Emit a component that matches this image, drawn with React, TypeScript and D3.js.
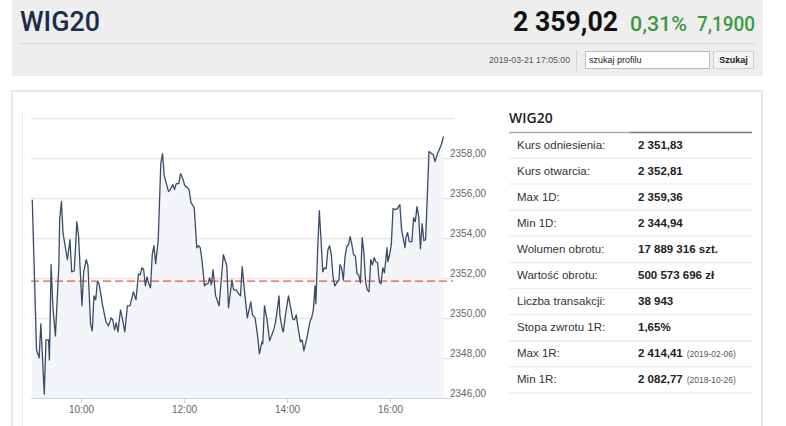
import * as d3 from 'd3';
import React from 'react';

// intraday quotes (time, index level)
const times = [
  '09:03', '09:08', '09:11', '09:13', '09:17', '09:19', '09:22', '09:23', '09:25', '09:27',
  '09:30', '09:34', '09:35', '09:37', '09:39', '09:44', '09:47', '09:49', '09:52', '09:55',
  '09:57', '10:01', '10:03', '10:06', '10:08', '10:11', '10:13', '10:15', '10:17', '10:19',
  '10:21', '10:25', '10:29', '10:32', '10:35', '10:37', '10:39', '10:41', '10:43', '10:46',
  '10:48', '10:51', '10:54', '10:57', '11:01', '11:04', '11:07', '11:09', '11:11', '11:13',
  '11:15', '11:17', '11:19', '11:21', '11:23', '11:25', '11:27', '11:30', '11:33', '11:35',
  '11:37', '11:42', '11:44', '11:47', '11:49', '11:51', '11:54', '11:56', '11:59', '12:01',
  '12:04', '12:06', '12:08', '12:09', '12:12', '12:15', '12:17', '12:19', '12:21', '12:24',
  '12:26', '12:28', '12:30', '12:32', '12:34', '12:37', '12:41', '12:46', '12:50', '12:52',
  '12:56', '12:58', '13:01', '13:04', '13:06', '13:08', '13:11', '13:14', '13:18', '13:20',
  '13:23', '13:26', '13:28', '13:31', '13:32', '13:34', '13:37', '13:40', '13:43', '13:45',
  '13:47', '13:51', '13:52', '13:55', '13:56', '13:59', '14:02', '14:05', '14:07', '14:09',
  '14:11', '14:14', '14:16', '14:18', '14:20', '14:24', '14:27', '14:29', '14:31', '14:33',
  '14:34', '14:36', '14:38', '14:40', '14:42', '14:44', '14:46', '14:48', '14:50', '14:52',
  '14:54', '14:56', '14:59', '15:01', '15:02', '15:04', '15:06', '15:08', '15:10', '15:12',
  '15:14', '15:16', '15:18', '15:20', '15:22', '15:24', '15:26', '15:28', '15:30', '15:32',
  '15:34', '15:36', '15:38', '15:40', '15:42', '15:44', '15:46', '15:48', '15:50', '15:52',
  '15:54', '15:57', '15:58', '16:00', '16:02', '16:04', '16:07', '16:09', '16:12', '16:14',
  '16:18', '16:19', '16:21', '16:23', '16:26', '16:28', '16:30', '16:32', '16:34', '16:36',
  '16:38', '16:40', '16:42', '16:44', '16:46', '16:49', '16:51', '16:53', '16:56', '17:00',
  '17:03',
];
const prices = [
  2355.9, 2348.4, 2348.0, 2349.7, 2346.2, 2348.9, 2348.9, 2347.9, 2352.65, 2350.6,
  2349.1, 2352.6, 2354.9, 2355.8, 2354.2, 2352.9, 2353.9, 2352.3, 2352.35, 2354.8,
  2354.1, 2350.6, 2352.3, 2352.9, 2352.6, 2349.7, 2349.35, 2351.1, 2350.9, 2351.8,
  2351.7, 2350.65, 2349.8, 2349.6, 2350.0, 2349.9, 2349.4, 2349.75, 2349.3, 2350.4,
  2350.0, 2349.3, 2350.6, 2350.6, 2351.3, 2350.9, 2352.2, 2352.15, 2352.5, 2352.4,
  2351.6, 2352.05, 2351.7, 2351.5, 2353.15, 2353.6, 2352.7, 2353.9, 2357.7, 2358.2,
  2357.1, 2356.3, 2356.4, 2356.65, 2356.4, 2356.7, 2356.7, 2357.2, 2356.9, 2356.6,
  2356.5, 2356.4, 2355.8, 2355.7, 2355.5, 2353.5, 2353.6, 2353.5, 2352.9, 2351.6,
  2351.7, 2351.7, 2352.0, 2351.65, 2352.4, 2351.1, 2350.6, 2353.15, 2352.6, 2350.5,
  2351.9, 2351.4, 2351.4, 2351.2, 2351.1, 2352.55, 2351.2, 2350.0, 2350.8, 2350.15,
  2350.0, 2349.1, 2348.2, 2348.8, 2348.7, 2350.6, 2349.9, 2348.85, 2349.2, 2349.45,
  2349.8, 2351.1, 2350.1, 2349.4, 2349.3, 2350.3, 2351.1, 2350.4, 2349.95, 2349.9,
  2350.15, 2349.3, 2348.8, 2348.9, 2348.35, 2349.1, 2349.8, 2350.0, 2350.4, 2351.6,
  2350.7, 2353.4, 2355.35, 2353.9, 2352.3, 2352.5, 2352.45, 2353.4, 2353.6, 2353.15,
  2352.05, 2351.6, 2351.8, 2351.9, 2352.65, 2352.5, 2351.9, 2353.05, 2353.55, 2353.65,
  2354.05, 2353.65, 2353.15, 2353.1, 2352.2, 2352.15, 2351.75, 2354.0, 2353.25, 2351.8,
  2351.4, 2351.3, 2352.9, 2352.65, 2353.0, 2352.8, 2352.75, 2351.8, 2351.7, 2352.5,
  2352.25, 2353.5, 2352.8, 2353.15, 2353.65, 2355.45, 2355.4, 2355.45, 2355.65, 2354.4,
  2353.5, 2354.0, 2354.25, 2353.8, 2353.8, 2355.0, 2354.8, 2355.55, 2355.05, 2353.45,
  2354.7, 2353.85, 2353.9, 2356.05, 2358.3, 2358.2, 2358.15, 2357.8, 2358.2, 2358.6,
  2359.05,
];
const referencePrice = 2351.83;
const timeTicks = ['10:00', '12:00', '14:00', '16:00'];

const statLabels = [
  'Kurs odniesienia:', 'Kurs otwarcia:', 'Max 1D:', 'Min 1D:', 'Wolumen obrotu:',
  'Wartość obrotu:', 'Liczba transakcji:', 'Stopa zwrotu 1R:', 'Max 1R:', 'Min 1R:',
];
const statValues = [
  '2 351,83', '2 352,81', '2 359,36', '2 344,94', '17 889 316 szt.',
  '500 573 696 zł', '38 943', '1,65%', '2 414,41', '2 082,77',
];
const statNotes = ['', '', '', '', '', '', '', '', '(2019-02-06)', '(2018-10-26)'];

const parse = d3.timeParse('%H:%M');

const App: React.FC = () => {
  const plot = { left: 31, right: 453, top: 116, bottom: 398 };

  const x = d3.scaleTime()
    .domain([parse('09:00') as Date, parse('17:14') as Date])
    .range([29.7, 453]);

  const y = d3.scaleLinear()
    .domain([2346, 2360])
    .range([plot.bottom, plot.top + 1.5]);

  const pts = times.map((t, i) => [x(parse(t) as Date), y(prices[i])] as [number, number]);
  const line = d3.line()(pts) || '';
  const area = d3.area().y0(y(2346)).y1(d => d[1])(pts) || '';

  const yTicks = d3.range(2346, 2361, 2);
  const fmt = (v: number) => v.toFixed(2).replace('.', ',');

  const sans = '"Liberation Sans", Arial, sans-serif';
  const rowY = (i: number) => 144.5 + i * 26.1;

  return (
    <svg width={786} height={426} style={{ position: 'absolute', left: 0, top: 0, background: '#fff' }}>
      {/* header band */}
      <rect x={12} y={0} width={751} height={76} fill="#eeeeee" />
      <text x={20} y={31} fontFamily="Roboto, sans-serif" fontWeight={500} fontSize={28} fill="#1c2b4a"
        textLength={80} lengthAdjust="spacingAndGlyphs">WIG20</text>
      <text x={513} y={31} fontFamily="Roboto, sans-serif" fontWeight={700} fontSize={28} fill="#111"
        textLength={105} lengthAdjust="spacingAndGlyphs">2 359,02</text>
      <text x={630} y={31} fontFamily="Roboto, sans-serif" fontWeight={500} fontSize={21} fill="#3a9a3f"
        textLength={57} lengthAdjust="spacingAndGlyphs">0,31%</text>
      <text x={697} y={31} fontFamily="Roboto, sans-serif" fontWeight={500} fontSize={21} fill="#3a9a3f"
        textLength={58} lengthAdjust="spacingAndGlyphs">7,1900</text>
      <line x1={20} x2={755} y1={43.5} y2={43.5} stroke="#d6d6d6" />
      <text x={489} y={63} fontFamily={sans} fontSize={9} fill="#555"
        textLength={81} lengthAdjust="spacingAndGlyphs">2019-03-21 17:05:00</text>
      <line x1={576.5} x2={576.5} y1={50} y2={71} stroke="#d4d4d4" />
      <rect x={585.5} y={51.5} width={124} height={17} fill="#fff" stroke="#bdbdbd" />
      <text x={589} y={63} fontFamily={sans} fontSize={9} fill="#222">szukaj profilu</text>
      <rect x={713.5} y={51.5} width={40} height={17} fill="#f4f4f4" stroke="#cfcfcf" />
      <text x={733.5} y={63} textAnchor="middle" fontFamily={sans} fontSize={9} fontWeight={700} fill="#222">Szukaj</text>

      {/* panel */}
      <rect x={12} y={91} width={750} height={345} fill="#fff" stroke="#e8e8e8" strokeWidth={2} />
      <line x1={22.5} x2={22.5} y1={110} y2={426} stroke="#ececec" />

      {/* chart */}
      {yTicks.map(v => (
        <line key={v} x1={plot.left} x2={plot.right} y1={Math.round(y(v)) + 0.5} y2={Math.round(y(v)) + 0.5}
          stroke={v === 2346 ? '#ccd6eb' : '#e6e6e6'} strokeWidth={v === 2346 ? 1 : 1.5} />
      ))}
      <path d={area} fill="#f3f5f8" />
      <line x1={plot.left} x2={plot.right} y1={y(referencePrice)} y2={y(referencePrice)}
        stroke="#e8352b" strokeOpacity={0.85} strokeWidth={1.2} strokeDasharray="8,4" />
      <path d={line} fill="none" stroke="#3a4b68" strokeWidth={1.3} strokeLinejoin="round" />
      {yTicks.filter(v => v < 2360).map(v => (
        <text key={v} x={450} y={y(v) - 1} fontFamily={sans} fontSize={10} fill="#666">{fmt(v)}</text>
      ))}
      {timeTicks.map(t => {
        const xx = Math.round(x(parse(t) as Date)) + 0.5;
        return (
          <g key={t}>
            <line x1={xx} x2={xx} y1={plot.bottom} y2={plot.bottom + 5} stroke="#ccd6eb" />
            <text x={xx} y={413} textAnchor="middle" fontFamily={sans} fontSize={10} fill="#666">{t}</text>
          </g>
        );
      })}

      {/* stats table */}
      <text x={509} y={123} fontFamily="'Open Sans', sans-serif" fontWeight={600} fontSize={14} fill="#222">WIG20</text>
      <line x1={509} x2={630} y1={132.5} y2={132.5} stroke="#aaa" strokeWidth={1.5} />
      <line x1={630} x2={752} y1={132.5} y2={132.5} stroke="#777" strokeWidth={1.5} />
      {statLabels.map((lab, i) => (
        <g key={lab}>
          <text x={517} y={rowY(i) + 4} fontFamily={sans} fontSize={11.5} fill="#333">{lab}</text>
          <text x={638} y={rowY(i) + 4} fontFamily={sans} fontSize={11.5} fontWeight={700} fill="#222">
            {statValues[i]}
            {statNotes[i] && <tspan fontSize={8.5} fontWeight={400} fill="#555" dx={4}>{statNotes[i]}</tspan>}
          </text>
          <line x1={509} x2={752} y1={rowY(i) + 13.5} y2={rowY(i) + 13.5} stroke="#eeeeee" strokeWidth={1.5} />
        </g>
      ))}
    </svg>
  );
};

export default App;
